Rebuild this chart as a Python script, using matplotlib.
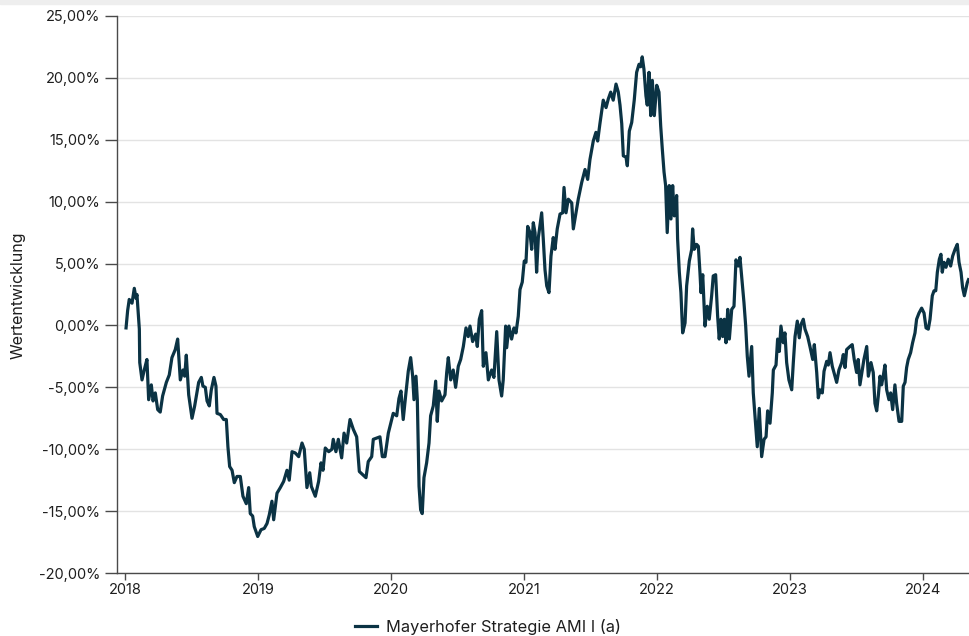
import matplotlib
matplotlib.use("Agg")
import matplotlib.pyplot as plt
from matplotlib.ticker import FuncFormatter
from matplotlib.patches import Rectangle

plt.rcParams["font.family"] = ["Inter", "DejaVu Sans"]

# fund performance (decimal year, percent)
years = [
    2018.008, 2018.020, 2018.032, 2018.053, 2018.070, 2018.083, 2018.090, 2018.108, 2018.111, 2018.128,
    2018.145, 2018.165, 2018.178, 2018.198, 2018.211, 2018.228, 2018.246, 2018.265, 2018.283, 2018.311,
    2018.333, 2018.353, 2018.378, 2018.396, 2018.416, 2018.436, 2018.449, 2018.461, 2018.479, 2018.504,
    2018.524, 2018.541, 2018.554, 2018.574, 2018.586, 2018.604, 2018.617, 2018.634, 2018.649, 2018.669,
    2018.684, 2018.692, 2018.717, 2018.742, 2018.762, 2018.774, 2018.787, 2018.805, 2018.822, 2018.842,
    2018.867, 2018.887, 2018.912, 2018.930, 2018.942, 2018.960, 2018.972, 2018.998, 2019.023, 2019.047,
    2019.068, 2019.085, 2019.105, 2019.118, 2019.143, 2019.168, 2019.193, 2019.218, 2019.235, 2019.256,
    2019.280, 2019.306, 2019.331, 2019.348, 2019.368, 2019.389, 2019.401, 2019.431, 2019.456, 2019.474,
    2019.489, 2019.506, 2019.532, 2019.556, 2019.566, 2019.586, 2019.604, 2019.629, 2019.647, 2019.667,
    2019.692, 2019.717, 2019.742, 2019.762, 2019.792, 2019.812, 2019.829, 2019.855, 2019.867, 2019.892,
    2019.917, 2019.935, 2019.955, 2019.980, 2020.005, 2020.017, 2020.043, 2020.060, 2020.075, 2020.092,
    2020.111, 2020.130, 2020.148, 2020.163, 2020.173, 2020.188, 2020.198, 2020.211, 2020.223, 2020.235,
    2020.248, 2020.268, 2020.286, 2020.298, 2020.318, 2020.336, 2020.348, 2020.361, 2020.381, 2020.406,
    2020.419, 2020.431, 2020.449, 2020.468, 2020.486, 2020.506, 2020.524, 2020.544, 2020.564, 2020.581,
    2020.594, 2020.614, 2020.637, 2020.649, 2020.664, 2020.682, 2020.694, 2020.714, 2020.732, 2020.757,
    2020.774, 2020.795, 2020.812, 2020.832, 2020.844, 2020.862, 2020.870, 2020.887, 2020.907, 2020.925,
    2020.940, 2020.957, 2020.970, 2020.987, 2021.002, 2021.015, 2021.028, 2021.045, 2021.058, 2021.070,
    2021.083, 2021.095, 2021.108, 2021.133, 2021.145, 2021.158, 2021.171, 2021.188, 2021.203, 2021.220,
    2021.233, 2021.250, 2021.271, 2021.291, 2021.301, 2021.316, 2021.333, 2021.359, 2021.371, 2021.391,
    2021.408, 2021.434, 2021.459, 2021.479, 2021.496, 2021.521, 2021.541, 2021.554, 2021.571, 2021.596,
    2021.617, 2021.634, 2021.652, 2021.671, 2021.692, 2021.709, 2021.722, 2021.735, 2021.747, 2021.767,
    2021.777, 2021.792, 2021.810, 2021.829, 2021.847, 2021.865, 2021.877, 2021.889, 2021.902, 2021.917,
    2021.927, 2021.940, 2021.953, 2021.965, 2021.980, 2021.998, 2022.015, 2022.028, 2022.040, 2022.053,
    2022.065, 2022.077, 2022.092, 2022.105, 2022.118, 2022.130, 2022.148, 2022.155, 2022.168, 2022.180,
    2022.193, 2022.211, 2022.223, 2022.243, 2022.261, 2022.268, 2022.280, 2022.298, 2022.311, 2022.323,
    2022.331, 2022.344, 2022.361, 2022.378, 2022.393, 2022.411, 2022.423, 2022.441, 2022.456, 2022.468,
    2022.481, 2022.494, 2022.506, 2022.519, 2022.532, 2022.544, 2022.562, 2022.579, 2022.594, 2022.611,
    2022.624, 2022.637, 2022.654, 2022.667, 2022.679, 2022.692, 2022.712, 2022.724, 2022.737, 2022.754,
    2022.769, 2022.787, 2022.805, 2022.820, 2022.832, 2022.850, 2022.867, 2022.875, 2022.895, 2022.907,
    2022.920, 2022.932, 2022.950, 2022.962, 2022.975, 2022.992, 2023.013, 2023.025, 2023.038, 2023.055,
    2023.070, 2023.083, 2023.100, 2023.113, 2023.133, 2023.150, 2023.171, 2023.183, 2023.201, 2023.213,
    2023.226, 2023.243, 2023.256, 2023.276, 2023.288, 2023.301, 2023.318, 2023.338, 2023.351, 2023.368,
    2023.389, 2023.401, 2023.414, 2023.426, 2023.451, 2023.468, 2023.483, 2023.501, 2023.513, 2023.526,
    2023.544, 2023.556, 2023.577, 2023.589, 2023.609, 2023.626, 2023.639, 2023.652, 2023.664, 2023.677,
    2023.689, 2023.701, 2023.714, 2023.727, 2023.744, 2023.757, 2023.772, 2023.789, 2023.802, 2023.820,
    2023.840, 2023.852, 2023.865, 2023.877, 2023.889, 2023.907, 2023.922, 2023.940, 2023.952, 2023.970,
    2023.990, 2024.008, 2024.023, 2024.040, 2024.053, 2024.070, 2024.083, 2024.096, 2024.108, 2024.123,
    2024.135, 2024.145, 2024.158, 2024.173, 2024.190, 2024.208, 2024.223, 2024.241, 2024.258, 2024.271,
    2024.286, 2024.298, 2024.311, 2024.333, 2024.342,
]
perf = [
    -0.2, 1.2, 2.1, 1.8, 3.0, 2.2, 2.5, -0.3, -3.0, -4.4,
    -3.6, -2.75, -6.0, -4.8, -6.1, -5.45, -6.8, -7.0, -5.7, -4.6,
    -4.0, -2.6, -1.95, -1.1, -4.4, -3.6, -4.1, -2.4, -5.6, -7.5,
    -6.5, -5.45, -4.6, -4.2, -4.9, -5.0, -6.1, -6.5, -5.2, -4.2,
    -4.9, -7.1, -7.2, -7.6, -7.6, -9.8, -11.4, -11.7, -12.7, -12.2,
    -12.2, -13.8, -14.4, -13.1, -15.2, -15.4, -16.25, -17.05, -16.5, -16.4,
    -16.0, -15.3, -14.2, -15.7, -13.55, -13.1, -12.6, -11.7, -12.5, -10.2,
    -10.3, -10.6, -9.5, -10.0, -13.1, -11.9, -13.0, -13.8, -12.6, -11.1,
    -11.7, -9.9, -10.2, -10.0, -9.2, -10.2, -9.2, -10.7, -8.7, -9.5,
    -7.6, -8.4, -9.0, -11.8, -12.1, -12.3, -11.0, -10.6, -9.2, -9.1,
    -9.0, -10.6, -10.6, -8.7, -7.6, -7.1, -7.3, -5.9, -5.3, -7.6,
    -5.6, -3.7, -2.6, -4.1, -6.0, -4.1, -6.0, -13.0, -14.9, -15.2,
    -12.3, -11.1, -9.5, -7.3, -6.5, -4.5, -7.75, -5.3, -6.1, -5.6,
    -3.8, -2.6, -4.4, -3.6, -5.0, -3.3, -2.75, -1.7, -0.2, -0.9,
    -0.05, -1.3, -0.7, -1.7, 0.5, 1.2, -3.3, -2.2, -4.4, -3.6,
    -4.2, -0.5, -4.4, -5.7, -4.4, -0.05, -1.8, -0.05, -1.1, -0.2,
    -0.6, 0.75, 2.9, 3.5, 5.2, 5.1, 8.0, 7.5, 6.15, 8.3,
    7.5, 4.3, 7.1, 9.1, 7.0, 4.5, 3.2, 2.65, 5.6, 7.1,
    6.15, 7.8, 9.0, 9.1, 11.15, 9.1, 10.2, 9.9, 7.8, 9.1,
    10.2, 11.55, 12.6, 11.8, 13.4, 14.9, 15.6, 14.9, 16.3, 18.2,
    17.6, 18.3, 18.85, 18.2, 19.5, 18.85, 17.8, 16.3, 13.7, 13.6,
    12.9, 15.7, 16.4, 18.2, 20.45, 21.1, 20.9, 21.7, 20.7, 18.55,
    17.8, 20.45, 16.95, 19.8, 16.95, 19.4, 18.85, 16.1, 14.25, 12.4,
    11.3, 7.5, 11.3, 8.6, 11.3, 8.85, 10.5, 7.0, 4.3, 2.65,
    -0.6, 0.2, 3.2, 5.2, 6.15, 7.8, 6.15, 6.55, 6.4, 4.3,
    2.65, 4.1, -0.05, 1.55, 0.5, 2.4, 4.0, 4.1, 0.75, -1.1,
    0.5, -0.9, 0.5, -1.4, 1.3, -1.1, 1.3, 1.55, 5.3, 4.8,
    5.5, 3.9, 1.85, -0.05, -2.5, -4.1, -1.7, -5.45, -7.3, -9.8,
    -6.7, -10.6, -9.2, -9.0, -6.9, -7.9, -5.45, -3.6, -3.2, -1.1,
    -2.1, -0.05, -1.4, -0.6, -3.0, -4.4, -5.2, -3.0, -0.9, 0.35,
    -1.0, 0.08, 0.5, -0.3, -0.9, -1.7, -2.75, -1.55, -3.8, -5.85,
    -5.2, -5.45, -3.7, -2.9, -3.2, -2.2, -3.3, -4.1, -4.6, -3.6,
    -3.0, -2.35, -3.4, -1.95, -1.7, -1.55, -2.75, -3.8, -2.75, -4.8,
    -3.6, -2.75, -1.7, -4.1, -3.0, -3.8, -6.3, -6.9, -5.7, -4.1,
    -4.8, -4.1, -3.2, -5.2, -6.0, -5.45, -6.8, -4.8, -6.3, -7.75,
    -7.75, -4.9, -4.6, -3.4, -2.75, -2.2, -1.4, -0.6, 0.5, 1.0,
    1.4, 1.0, -0.2, -0.3, 0.5, 2.4, 2.8, 2.8, 4.3, 5.35,
    5.75, 4.3, 5.1, 4.7, 5.35, 4.8, 5.6, 6.15, 6.55, 5.1,
    4.3, 3.05, 2.4, 3.45, 3.7,
]

tick_years = [2018, 2019, 2020, 2021, 2022, 2023, 2024]
y_ticks = [-20, -15, -10, -5, 0, 5, 10, 15, 20, 25]
series_name = "Mayerhofer Strategie AMI I (a)"

line_color = "#0b3344"
text_color = "#1e1e1e"

fig = plt.figure(figsize=(9.69, 6.36), dpi=100)
ax = fig.add_axes([117 / 969, 63 / 636, 852 / 969, 557 / 636])

ax.plot(years, perf, color=line_color, lw=2.3, solid_joinstyle="round",
        label=series_name, zorder=3)

ax.set_xlim(2017.94, 2024.346)
ax.set_ylim(-20, 25)
ax.set_xticks(tick_years)
ax.set_xticklabels([str(y) for y in tick_years])
ax.set_yticks(y_ticks)
ax.yaxis.set_major_formatter(
    FuncFormatter(lambda v, _: f"{v:.2f}%".replace(".", ","))
)

ax.grid(axis="y", color="#e3e3e3", lw=1.0, zorder=0)
ax.set_axisbelow(True)
for side in ("top", "right"):
    ax.spines[side].set_visible(False)
for side in ("left", "bottom"):
    ax.spines[side].set_color("#4a4a4a")
    ax.spines[side].set_linewidth(1.0)

ax.tick_params(axis="y", length=9, width=1, color="#4a4a4a",
               labelsize=10.5, labelcolor=text_color, pad=3)
ax.tick_params(axis="x", length=5, width=1, color="#4a4a4a",
               labelsize=10.5, labelcolor=text_color, pad=2)

fig.text(18 / 969, 1 - 295 / 636, "Wertentwicklung", rotation=90,
         ha="center", va="center", fontsize=11.5, color=text_color)

fig.legend(loc="center", bbox_to_anchor=(488 / 969, 9 / 636), frameon=False,
           fontsize=11.8, handlelength=1.3, handletextpad=0.55,
           labelcolor=text_color)

# thin grey band along the top edge
fig.patches.append(Rectangle((0, 1 - 4 / 636), 1, 4 / 636,
                             transform=fig.transFigure, color="#eeeeee",
                             zorder=0))

fig.savefig("out.png", dpi=100)
